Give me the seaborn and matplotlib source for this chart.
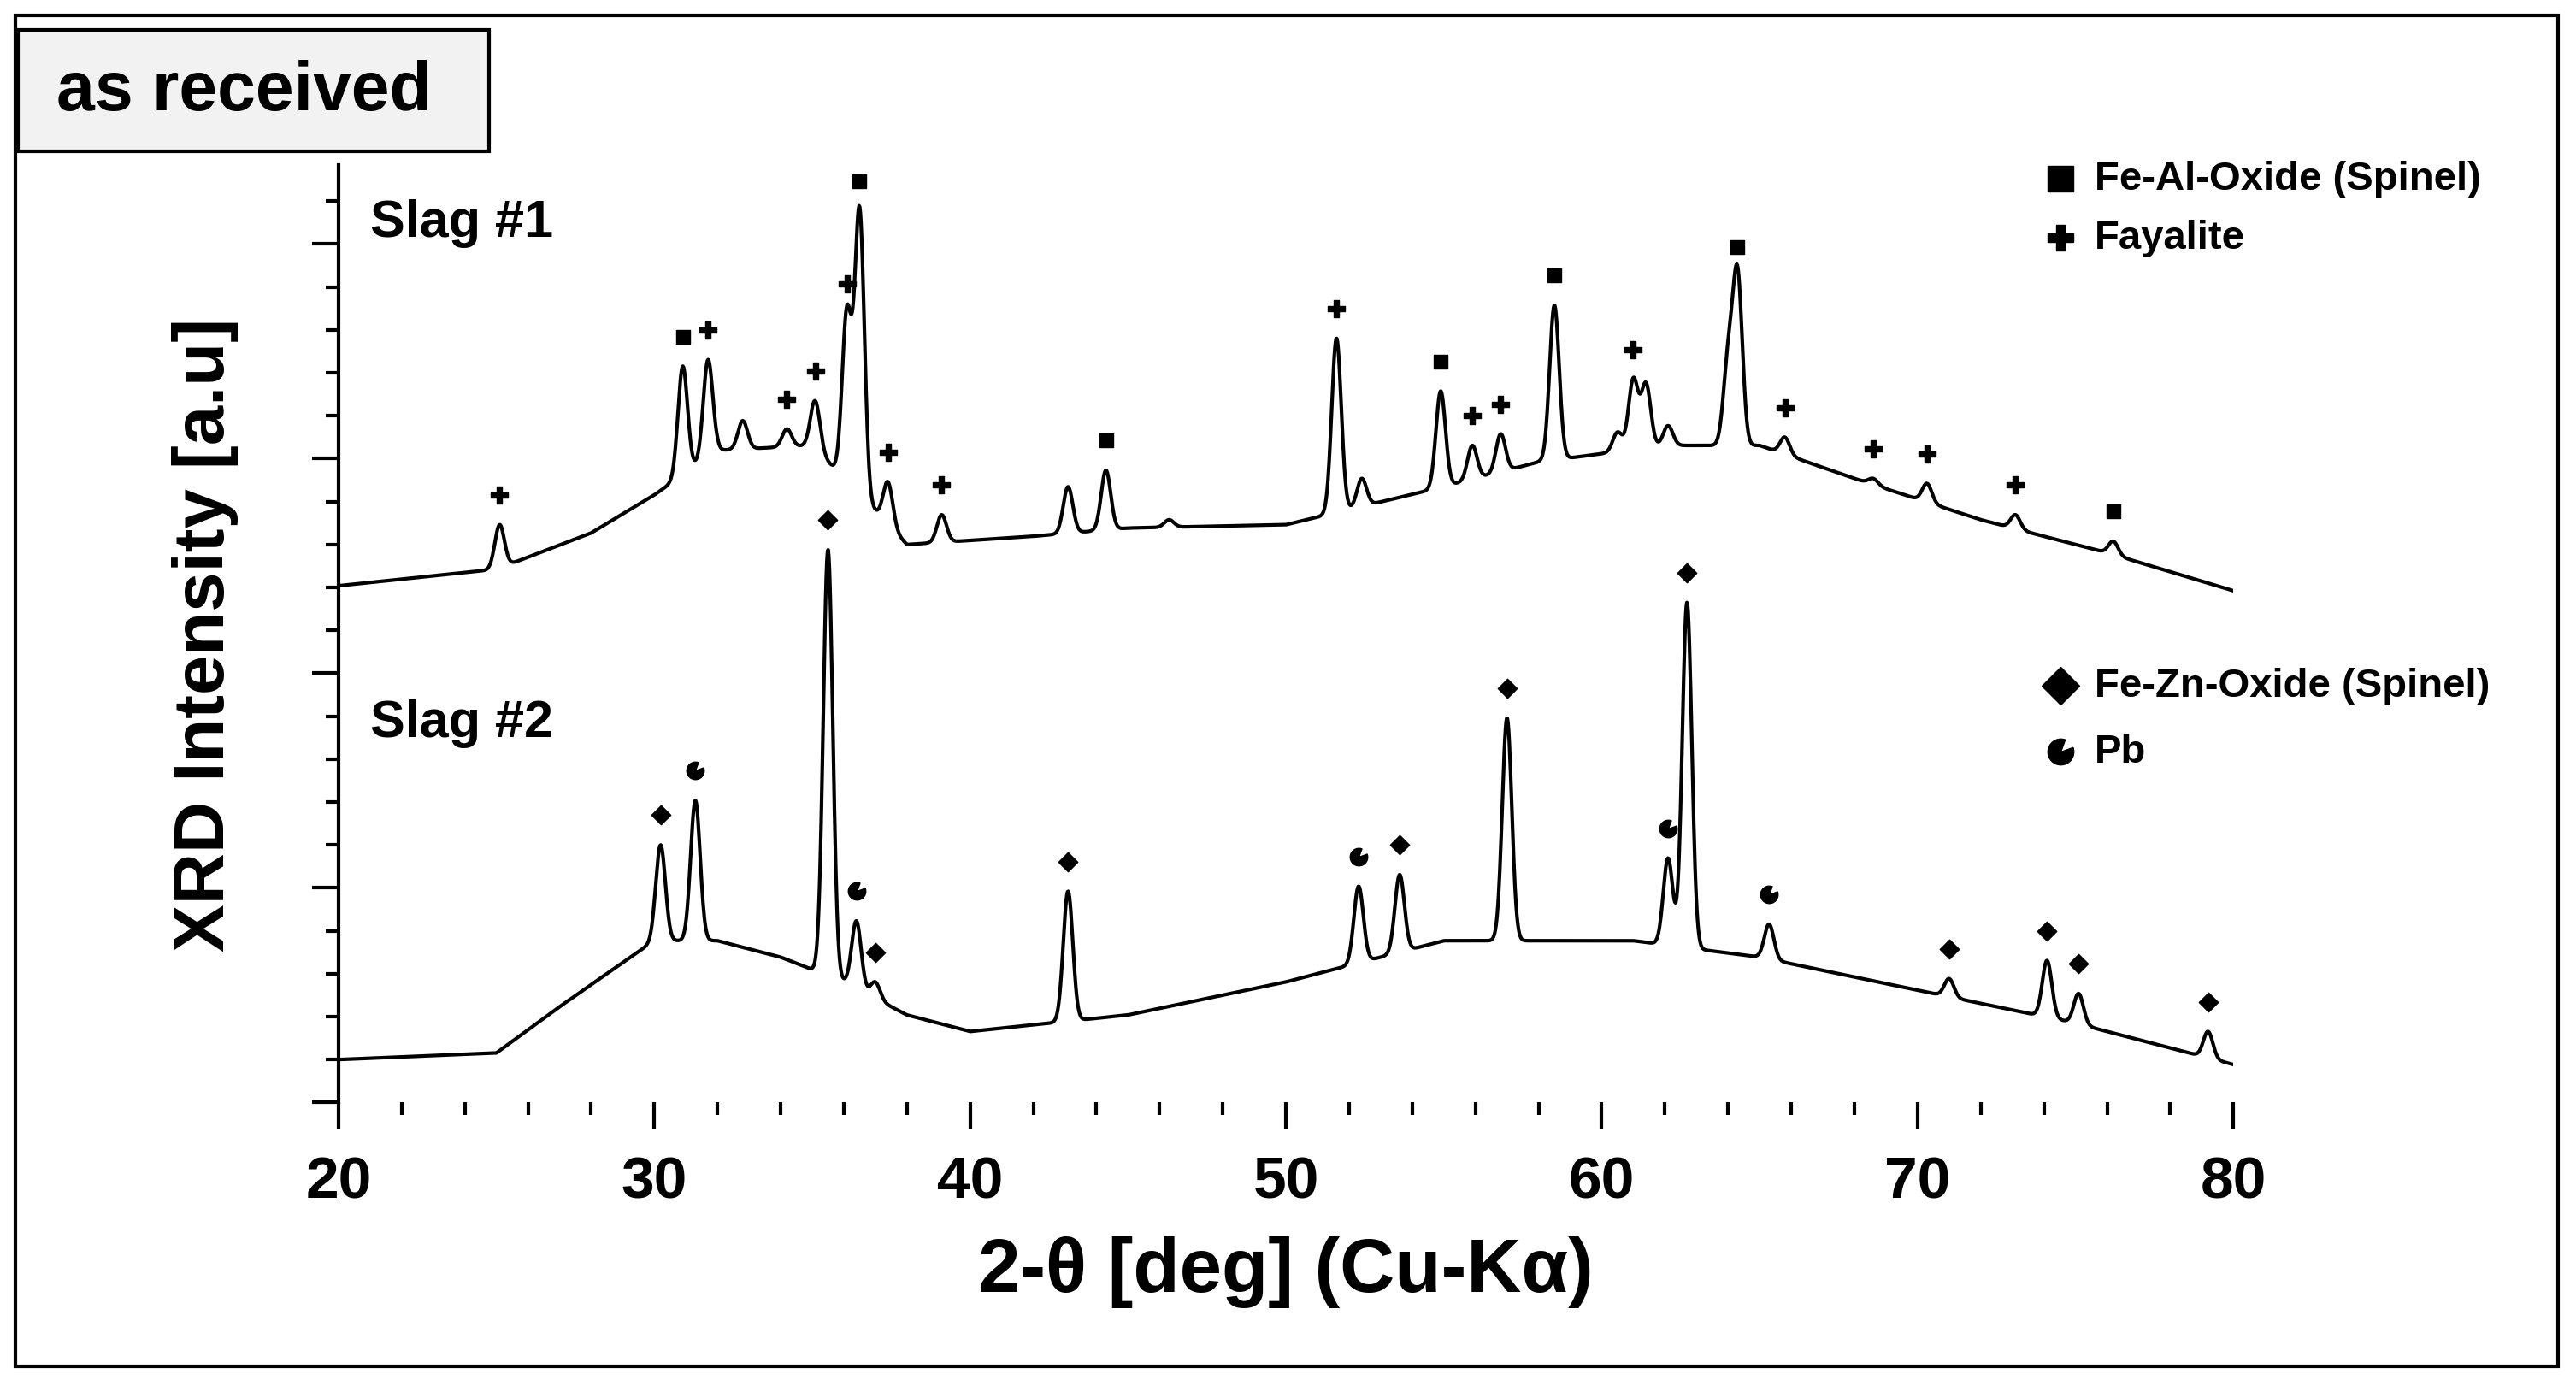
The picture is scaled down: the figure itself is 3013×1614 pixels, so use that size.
import numpy as np
import pandas as pd
import matplotlib
matplotlib.use("Agg")
import matplotlib.pyplot as plt
import matplotlib.path as mpath
from matplotlib.patches import Rectangle
from matplotlib.ticker import MultipleLocator
import seaborn as sns

# background control points (2-theta, intensity a.u.)
bg1_x = [20, 25, 28, 30, 32, 35, 38, 42, 45, 50, 55, 58, 62, 65, 68, 72, 76, 80]
bg1_y = [313, 323, 345, 368, 395, 398, 338, 343, 348, 350, 373, 388, 398, 398, 378, 353, 333, 310]
bg2_x = [20, 25, 27, 30, 32, 34, 36, 38, 40, 45, 50, 55, 58, 61, 63, 65, 70, 75, 80]
bg2_y = [26, 30, 58, 98, 98, 88, 73, 53, 43, 53, 73, 98, 98, 98, 93, 88, 68, 48, 23]

# peaks: position, peak top intensity
pk1_pos = [25.1, 30.9, 31.7, 32.8, 34.2, 35.1, 36.1, 36.5, 37.4, 39.1, 43.1, 44.3, 46.3,
           51.6, 52.4, 54.9, 55.9, 56.8, 58.5, 60.5, 61.0, 61.4, 62.1, 64.0, 64.3,
           65.8, 68.6, 70.3, 73.1, 76.2]
pk1_top = [350, 446, 450, 413, 408, 425, 478, 540, 376, 356, 373, 383, 353,
           463, 378, 431, 398, 405, 483, 406, 438, 435, 410, 448, 500,
           403, 378, 375, 356, 340]
pk2_pos = [30.2, 31.3, 35.5, 36.4, 37.0, 43.1, 52.3, 53.6, 57.0, 62.1, 62.7, 65.3,
           71.0, 74.1, 75.1, 79.2]
pk2_top = [156, 183, 335, 110, 73, 128, 131, 138, 233, 148, 303, 108, 75, 86, 66, 43]

# phase markers
spinel_al = [30.9, 36.5, 44.3, 54.9, 58.5, 64.3, 76.2]
fayalite = [25.1, 31.7, 34.2, 35.1, 36.1, 37.4, 39.1, 51.6, 55.9, 56.8, 61.0, 65.8, 68.6, 70.3, 73.1]
spinel_zn = [30.2, 35.5, 37.0, 43.1, 53.6, 57.0, 62.7, 71.0, 74.1, 75.1, 79.2]
lead = [31.3, 36.4, 52.3, 62.1, 65.3]

tt = np.linspace(20, 80, 3000)


def pattern(bx, by, pos, top, w=0.15):
    base = np.interp(tt, bx, by)
    y = base.copy()
    for p, t in zip(pos, top):
        amp = t - np.interp(p, bx, by)
        y += amp * np.exp(-0.5 * ((tt - p) / w) ** 2)
    return y


y1 = pattern(bg1_x, bg1_y, pk1_pos, pk1_top)
y2 = pattern(bg2_x, bg2_y, pk2_pos, pk2_top)
df = pd.concat([pd.DataFrame({"tt": tt, "I": y1, "s": "1"}),
                pd.DataFrame({"tt": tt, "I": y2, "s": "2"})])

plt.rcParams["font.family"] = ["Liberation Sans", "DejaVu Sans"]
plt.rcParams["font.weight"] = "bold"
fig = plt.figure(figsize=(30.13, 16.15), dpi=100)
ax = fig.add_axes([0.1314, 0.201, 0.7356, 0.679])
sns.lineplot(data=df, x="tt", y="I", units="s", estimator=None, color="black", lw=3, ax=ax)

pb_marker = mpath.Path.wedge(70, 380)


def mark(xs, pos, top, m, s, off=18):
    ys = []
    for x in xs:
        i = np.argmin(np.abs(np.array(pos) - x))
        ys.append(top[i] + off)
    ax.scatter(xs, ys, marker=m, s=s, color="black", zorder=5)


mark(spinel_al, pk1_pos, pk1_top, "s", 140)
mark(fayalite, pk1_pos, pk1_top, "P", 190)
mark(spinel_zn, pk2_pos, pk2_top, "D", 130)
mark(lead, pk2_pos, pk2_top, pb_marker, 220)

ax.set_xlim(20, 80)
ax.set_ylim(0, 568)
ax.xaxis.set_major_locator(MultipleLocator(10))
ax.xaxis.set_minor_locator(MultipleLocator(2))
ax.yaxis.set_major_locator(MultipleLocator(130))
ax.yaxis.set_minor_locator(MultipleLocator(26))
ax.set_yticklabels([])
for s in ["top", "right", "bottom"]:
    ax.spines[s].set_visible(False)
ax.spines["left"].set_linewidth(3)
ax.tick_params(axis="both", which="major", length=22, width=3, labelsize=50, pad=22)
ax.tick_params(axis="both", which="minor", length=11, width=3)
ax.set_xlabel("2-θ [deg] (Cu-Kα)", fontsize=64, fontweight="bold", labelpad=22)
ax.set_ylabel("XRD Intensity [a.u]", fontsize=60, fontweight="bold", labelpad=40)

ax.text(21, 525, "Slag #1", fontsize=44, fontweight="bold")
ax.text(21, 222, "Slag #2", fontsize=44, fontweight="bold")

# legend-like labels
lx, tx = 0.800, 0.813
for yy, m, lab in [(0.870, "s", "Fe-Al-Oxide (Spinel)"), (0.827, "P", "Fayalite"),
                   (0.503, "D", "Fe-Zn-Oxide (Spinel)"), (0.455, pb_marker, "Pb")]:
    fig.lines.append(plt.Line2D([lx], [yy], marker=m, markersize=22, color="black",
                                linestyle="none", transform=fig.transFigure))
    fig.text(tx, yy, lab, fontsize=34, fontweight="bold", va="center")

# outer frame and title box
fig.patches.append(Rectangle((0.006, 0.010), 0.987, 0.978, transform=fig.transFigure,
                             fill=False, lw=3, ec="black"))
fig.patches.append(Rectangle((0.007, 0.890), 0.183, 0.088, transform=fig.transFigure,
                             fc="#f2f2f2", lw=3, ec="black"))
fig.text(0.022, 0.933, "as received", fontsize=58, fontweight="bold", va="center")

fig.savefig("out.png", dpi=100)
